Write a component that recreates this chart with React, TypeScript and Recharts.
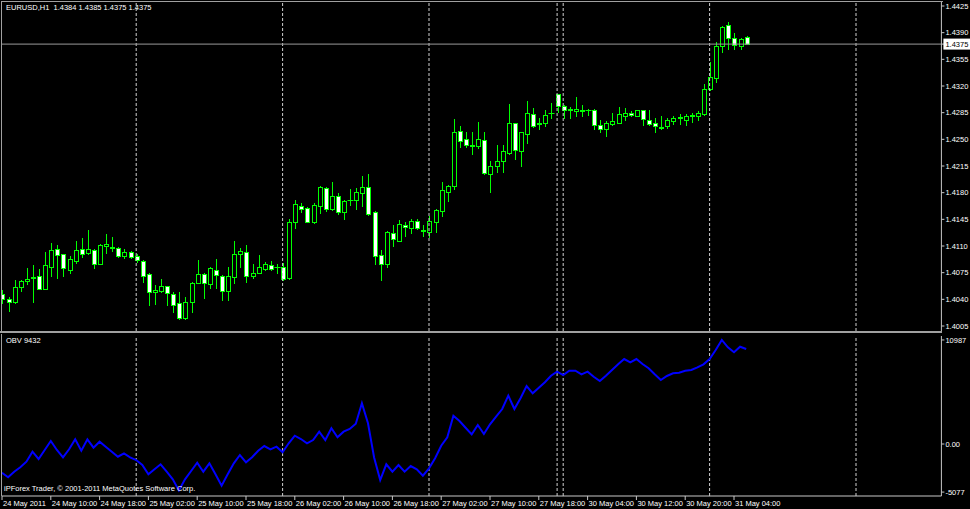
import React from 'react';
import { ComposedChart, Bar, Line, XAxis, YAxis, ReferenceLine } from 'recharts';

const openPrices = [
  1.4047, 1.4041, 1.4036, 1.4056, 1.4064, 1.4069, 1.4070, 1.4054, 1.4083, 1.4106,
  1.4099, 1.4079, 1.4090, 1.4106, 1.4101, 1.4105, 1.4087, 1.4110, 1.4109, 1.4108,
  1.4097, 1.4102, 1.4097, 1.4090, 1.4073, 1.4049, 1.4051, 1.4057, 1.4047, 1.4035,
  1.4016, 1.4036, 1.4062, 1.4073, 1.4060, 1.4079, 1.4071, 1.4051, 1.4069, 1.4100,
  1.4102, 1.4071, 1.4075, 1.4080, 1.4085, 1.4082, 1.4083, 1.4068, 1.4142, 1.4163,
  1.4160, 1.4141, 1.4163, 1.4186, 1.4158, 1.4176, 1.4154, 1.4170, 1.4170, 1.4179,
  1.4187, 1.4154, 1.4098, 1.4087, 1.4127, 1.4117, 1.4138, 1.4133, 1.4143, 1.4131,
  1.4128, 1.4142, 1.4156, 1.4181, 1.4189, 1.4261, 1.4250, 1.4243, 1.4241, 1.4249,
  1.4205, 1.4215, 1.4221, 1.4232, 1.4271, 1.4235, 1.4257, 1.4283, 1.4270, 1.4271,
  1.4284, 1.4309, 1.4294, 1.4289, 1.4287, 1.4288, 1.4288, 1.4288, 1.4269, 1.4264,
  1.4270, 1.4272, 1.4281, 1.4285, 1.4281, 1.4288, 1.4275, 1.4272, 1.4266, 1.4267,
  1.4274, 1.4278, 1.4276, 1.4281, 1.4280, 1.4283, 1.4316, 1.4330, 1.4373, 1.4400,
  1.4383, 1.4372, 1.4384,
];
const highPrices = [
  1.4052, 1.4043, 1.4066, 1.4065, 1.4081, 1.4085, 1.4080, 1.4102, 1.4114, 1.4111,
  1.4100, 1.4097, 1.4117, 1.4121, 1.4131, 1.4106, 1.4112, 1.4126, 1.4122, 1.4109,
  1.4106, 1.4104, 1.4100, 1.4091, 1.4074, 1.4059, 1.4067, 1.4058, 1.4050, 1.4050,
  1.4043, 1.4063, 1.4092, 1.4074, 1.4083, 1.4093, 1.4072, 1.4083, 1.4117, 1.4107,
  1.4111, 1.4087, 1.4098, 1.4089, 1.4090, 1.4087, 1.4088, 1.4146, 1.4171, 1.4167,
  1.4161, 1.4166, 1.4189, 1.4187, 1.4194, 1.4180, 1.4170, 1.4185, 1.4186, 1.4202,
  1.4205, 1.4156, 1.4105, 1.4130, 1.4137, 1.4144, 1.4141, 1.4145, 1.4145, 1.4137,
  1.4149, 1.4158, 1.4194, 1.4190, 1.4277, 1.4267, 1.4260, 1.4260, 1.4273, 1.4259,
  1.4221, 1.4243, 1.4242, 1.4297, 1.4272, 1.4260, 1.4300, 1.4291, 1.4278, 1.4288,
  1.4298, 1.4310, 1.4295, 1.4292, 1.4305, 1.4295, 1.4290, 1.4290, 1.4275, 1.4274,
  1.4284, 1.4292, 1.4291, 1.4287, 1.4289, 1.4289, 1.4289, 1.4278, 1.4281, 1.4278,
  1.4280, 1.4283, 1.4283, 1.4284, 1.4287, 1.4323, 1.4352, 1.4378, 1.4399, 1.4404,
  1.4389, 1.4383, 1.4385,
];
const lowPrices = [
  1.4035, 1.4025, 1.4035, 1.4051, 1.4060, 1.4036, 1.4053, 1.4053, 1.4071, 1.4068,
  1.4070, 1.4075, 1.4088, 1.4096, 1.4100, 1.4081, 1.4086, 1.4101, 1.4103, 1.4096,
  1.4094, 1.4094, 1.4089, 1.4063, 1.4033, 1.4034, 1.4050, 1.4032, 1.4023, 1.4014,
  1.4014, 1.4024, 1.4061, 1.4042, 1.4055, 1.4055, 1.4039, 1.4039, 1.4061, 1.4083,
  1.4063, 1.4068, 1.4074, 1.4079, 1.4079, 1.4075, 1.4066, 1.4067, 1.4133, 1.4155,
  1.4141, 1.4140, 1.4153, 1.4156, 1.4157, 1.4152, 1.4145, 1.4164, 1.4159, 1.4163,
  1.4151, 1.4086, 1.4065, 1.4082, 1.4110, 1.4116, 1.4123, 1.4127, 1.4132, 1.4123,
  1.4122, 1.4128, 1.4150, 1.4169, 1.4185, 1.4240, 1.4240, 1.4231, 1.4238, 1.4204,
  1.4181, 1.4207, 1.4207, 1.4231, 1.4224, 1.4215, 1.4245, 1.4266, 1.4264, 1.4267,
  1.4278, 1.4286, 1.4278, 1.4278, 1.4280, 1.4281, 1.4282, 1.4264, 1.4259, 1.4254,
  1.4269, 1.4271, 1.4275, 1.4280, 1.4280, 1.4269, 1.4269, 1.4260, 1.4264, 1.4265,
  1.4270, 1.4270, 1.4269, 1.4273, 1.4275, 1.4282, 1.4315, 1.4325, 1.4364, 1.4369,
  1.4368, 1.4368, 1.4375,
];
const closePrices = [
  1.4040, 1.4037, 1.4056, 1.4064, 1.4067, 1.4068, 1.4054, 1.4085, 1.4105, 1.4098,
  1.4081, 1.4093, 1.4105, 1.4100, 1.4106, 1.4087, 1.4111, 1.4112, 1.4107, 1.4097,
  1.4102, 1.4096, 1.4091, 1.4071, 1.4049, 1.4052, 1.4057, 1.4048, 1.4033, 1.4015,
  1.4036, 1.4062, 1.4073, 1.4062, 1.4081, 1.4072, 1.4051, 1.4071, 1.4100, 1.4104,
  1.4071, 1.4075, 1.4083, 1.4087, 1.4080, 1.4083, 1.4067, 1.4141, 1.4165, 1.4158,
  1.4142, 1.4164, 1.4188, 1.4159, 1.4175, 1.4154, 1.4169, 1.4171, 1.4181, 1.4187,
  1.4152, 1.4097, 1.4086, 1.4128, 1.4119, 1.4139, 1.4135, 1.4143, 1.4133, 1.4130,
  1.4143, 1.4157, 1.4183, 1.4189, 1.4260, 1.4248, 1.4242, 1.4241, 1.4250, 1.4206,
  1.4215, 1.4221, 1.4235, 1.4272, 1.4236, 1.4259, 1.4284, 1.4268, 1.4271, 1.4282,
  1.4285, 1.4294, 1.4288, 1.4290, 1.4290, 1.4287, 1.4289, 1.4269, 1.4264, 1.4272,
  1.4274, 1.4283, 1.4284, 1.4282, 1.4288, 1.4277, 1.4270, 1.4267, 1.4265, 1.4275,
  1.4278, 1.4279, 1.4281, 1.4282, 1.4285, 1.4316, 1.4332, 1.4373, 1.4398, 1.4383,
  1.4374, 1.4382, 1.4375,
];
const obvValues = [
  -3031, -3516, -2925, -2460, -1869, -813, -1584, -634, 317, -634,
  -1404, -560, 496, -708, 496, -391, 243, -285, -813, -1341,
  -982, -1404, -1690, -2218, -3200, -2672, -2144, -2925, -3728, -4900,
  -3728, -2851, -1975, -2925, -2038, -3200, -4404, -3200, -2038, -1162,
  -1932, -1404, -708, -211, -560, -285, -876, 74, 876, 528,
  74, 422, 1299, 422, 1658, 708, 1299, 1584, 2144, 4298,
  2186, -1426, -3802, -2144, -2925, -2218, -2925, -2323, -2672, -3348,
  -2566, -1510, -180, 708, 2988, 2429, 1721, 1024, 2006, 1056,
  2080, 2883, 3696, 5100, 3696, 4826, 6125, 5354, 5945, 6516,
  7212, 7635, 7286, 7740, 7740, 7360, 7635, 7107, 6653, 7212,
  7814, 8416, 8976, 8628, 8976, 8448, 7994, 7360, 6758, 7181,
  7466, 7529, 7740, 7814, 8100, 8416, 8976, 9926, 10987, 10212,
  9684, 10275, 10032,
];

const timeTickIndex = [0, 8, 16, 24, 32, 40, 48, 56, 64, 72, 80, 88, 96, 104, 112, 120];
const timeTickLabels = [
  '24 May 2011', '24 May 10:00', '24 May 18:00', '25 May 02:00', '25 May 10:00',
  '25 May 18:00', '26 May 02:00', '26 May 10:00', '26 May 18:00', '27 May 02:00',
  '27 May 10:00', '27 May 18:00', '30 May 04:00', '30 May 12:00', '30 May 20:00',
  '31 May 04:00',
];
const priceTicks = [
  1.4005, 1.404, 1.4075, 1.411, 1.4145, 1.418, 1.4215, 1.425, 1.4285, 1.432,
  1.4355, 1.439, 1.4425,
];
const obvTicks = [10987, 0, -5077];
const obvTickLabels = ['10987', '0.00', '-5077'];
const separatorIndex = [22, 46, 70, 91, 92, 116, 140];
const lastPrice = 1.4375;
const titleText = 'EURUSD,H1  1.4384 1.4385 1.4375 1.4375';
const obvTitle = 'OBV 9432';
const copyrightText = 'iPForex Trader, \u00A9 2001-2011 MetaQuotes Software Corp.';

const rows = openPrices.map((o, i) => ({
  i,
  open: o,
  high: highPrices[i],
  low: lowPrices[i],
  close: closePrices[i],
  range: [lowPrices[i], highPrices[i]],
  obv: obvValues[i],
}));

const FONT = "'Liberation Sans', Arial, sans-serif";
const FS = 7.5;
const CANDLE = '#00ff00';
const SEP = '#d0d0d0';
const FRAME = '#a0a0a0';

const Candle = (props: any) => {
  const { x, y, width, height, payload } = props;
  if (x == null || y == null || !payload) return null;
  const cx = Math.round(x + width / 2) + 0.5;
  const span = payload.high - payload.low;
  const k = span > 0 ? height / span : 0;
  const yO = y + (payload.high - payload.open) * k;
  const yC = y + (payload.high - payload.close) * k;
  const top = Math.round(Math.min(yO, yC)) + 0.5;
  const bot = Math.round(Math.max(yO, yC)) + 0.5;
  const bull = payload.close >= payload.open;
  return (
    <g>
      <line x1={cx} x2={cx} y1={Math.round(y)} y2={Math.round(y + height) + 1} stroke={CANDLE} strokeWidth={1} />
      {bot - top < 1 ? (
        <line x1={cx - 3} x2={cx + 3} y1={top} y2={top} stroke={CANDLE} strokeWidth={1} />
      ) : (
        <rect x={cx - 2} y={top} width={4} height={bot - top} fill={bull ? '#000' : '#fff'} stroke={CANDLE} strokeWidth={1} />
      )}
    </g>
  );
};

const PriceTick = (props: any) => {
  const { x, y, payload } = props;
  const v = payload.value as number;
  const isLast = Math.abs(v - lastPrice) < 1e-9;
  return (
    <g>
      {isLast && <rect x={x - 2} y={y - 5.5} width={30} height={11} fill="#ffffff" />}
      <text x={x} y={y} dy={2.8} fill={isLast ? '#000' : '#fff'} fontSize={FS} fontFamily={FONT} textAnchor="start">
        {v.toFixed(4)}
      </text>
    </g>
  );
};

const ObvTick = (props: any) => {
  const { x, y, payload } = props;
  const idx = obvTicks.indexOf(payload.value);
  return (
    <text x={x} y={y} dy={2.8} fill="#fff" fontSize={FS} fontFamily={FONT} textAnchor="start">
      {obvTickLabels[idx]}
    </text>
  );
};

const TimeTick = (props: any) => {
  const { x, y, payload } = props;
  const idx = timeTickIndex.indexOf(payload.value);
  return (
    <text x={x + 1} y={y} dy={6} fill="#fff" fontSize={FS} fontFamily={FONT} textAnchor="start">
      {timeTickLabels[idx]}
    </text>
  );
};

const textStyle: React.CSSProperties = {
  position: 'absolute',
  color: '#fff',
  fontFamily: FONT,
  fontSize: FS,
  lineHeight: '10px',
  whiteSpace: 'pre',
};

export default function App() {
  return (
    <div style={{ position: 'absolute', left: 0, top: 0, width: 970, height: 509, background: '#000', overflow: 'hidden' }}>
      <div style={{ position: 'absolute', left: 1, top: 1, width: 941, height: 330, borderTop: `1px solid ${FRAME}`, borderLeft: `1px solid ${FRAME}` }} />
      <div style={{ position: 'absolute', left: 1, top: 334, width: 1, height: 162, background: FRAME }} />
      <div style={{ position: 'absolute', left: 0, top: 331, width: 942, height: 2, background: FRAME }} />
      <div style={{ position: 'absolute', left: 0, top: 0 }}>
        <ComposedChart width={970} height={334} data={rows} margin={{ top: 2, right: 0, bottom: 3, left: 2 }}>
          <XAxis type="number" dataKey="i" domain={[0, 154]} hide allowDataOverflow />
          <YAxis
            orientation="right"
            type="number"
            domain={[1.399844, 1.443025]}
            allowDataOverflow
            width={28.6}
            ticks={[...priceTicks, lastPrice]}
            interval={0}
            tick={<PriceTick />}
            tickSize={3}
            tickMargin={1}
            tickLine={{ stroke: '#c8c8c8' }}
            axisLine={{ stroke: '#c8c8c8' }}
          />
          {separatorIndex.map((s) => (
            <ReferenceLine key={'s' + s} x={s} stroke={SEP} strokeDasharray="3 2" ifOverflow="visible" />
          ))}
          <ReferenceLine y={lastPrice} stroke="#9a9a9a" />
          <Bar dataKey="range" barSize={5} shape={<Candle />} isAnimationActive={false} />
        </ComposedChart>
      </div>
      <div style={{ position: 'absolute', left: 0, top: 334 }}>
        <ComposedChart width={970} height={175} data={rows} margin={{ top: 2, right: 0, bottom: 0, left: 2 }}>
          <XAxis
            type="number"
            dataKey="i"
            domain={[0, 154]}
            allowDataOverflow
            ticks={timeTickIndex}
            interval={0}
            height={13}
            tick={<TimeTick />}
            tickSize={4}
            tickMargin={0}
            tickLine={{ stroke: '#c8c8c8' }}
            axisLine={{ stroke: '#c8c8c8' }}
          />
          <YAxis
            orientation="right"
            type="number"
            domain={[-5491, 11405]}
            allowDataOverflow
            width={28.6}
            ticks={obvTicks}
            interval={0}
            tick={<ObvTick />}
            tickSize={3}
            tickMargin={1}
            tickLine={{ stroke: '#c8c8c8' }}
            axisLine={{ stroke: '#c8c8c8' }}
          />
          {separatorIndex.map((s) => (
            <ReferenceLine key={'o' + s} x={s} stroke={SEP} strokeDasharray="3 2" ifOverflow="visible" />
          ))}
          <Line type="linear" dataKey="obv" stroke="#0000ff" strokeWidth={2} dot={false} isAnimationActive={false} />
        </ComposedChart>
      </div>
      <div style={{ ...textStyle, left: 6, top: 3 }}>{titleText}</div>
      <div style={{ ...textStyle, left: 6, top: 336 }}>{obvTitle}</div>
      <div style={{ ...textStyle, left: 4, top: 484 }}>{copyrightText}</div>
    </div>
  );
}
